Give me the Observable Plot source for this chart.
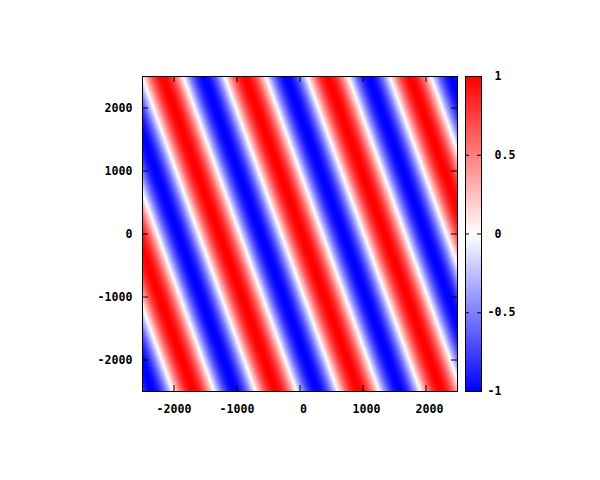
<!DOCTYPE html>
<html><head><meta charset="utf-8">
<script src="https://cdn.jsdelivr.net/npm/d3@7"></script>
<script src="https://cdn.jsdelivr.net/npm/@observablehq/plot@0.6"></script>
<style>
body{margin:0;background:#fff;}
#chart{position:relative;width:600px;height:480px;background:#fff;}
#chart svg{position:absolute;left:0;top:0;}
</style></head><body><div id="chart"></div>
<script>
// ---- data ----
const xDomain = [-2500, 2500];
const yDomain = [-2500, 2500];
const xTicks = [-2000, -1000, 0, 1000, 2000];
const yTicks = [-2000, -1000, 0, 1000, 2000];
const colorDomain = [-1, 0, 1];
const colorRange = ["#0000ff", "#ffffff", "#ff0000"];
const colorTicks = [-1, -0.5, 0, 0.5, 1];
// plane wave: crest spacing along x, stripe tilt (dx per dy), crest offset at y = 0
const waveLengthX = 1310;
const waveTilt = 0.36;
const waveOffset = 30;

// ---- layout ----
const W = 600, H = 480;
const mL = 142, mR = 143, mT = 76, mB = 89;
const innerW = W - mL - mR, innerH = H - mT - mB;
const cbL = 465, cbR = 119;
const cbW = W - cbL - cbR;
const tickLen = 6, cbTickLen = 4;
const fmt = d => (d < 0 ? "-" + Math.abs(d) : "\u00a0" + d);
const font = {fontFamily: "'DejaVu Sans Mono', monospace", fontWeight: "bold", fontSize: "11.6px", background: "transparent", color: "#000"};
const color = {type: "linear", domain: colorDomain, range: colorRange, interpolate: "rgb"};

const wave = (x, y) => Math.cos(2 * Math.PI * (x + waveTilt * y - waveOffset) / waveLengthX);

const main = Plot.plot({
  width: W, height: H, marginLeft: mL, marginRight: mR, marginTop: mT, marginBottom: mB,
  style: font,
  x: {domain: xDomain}, y: {domain: yDomain}, color,
  marks: [
    Plot.raster({fill: wave, x1: xDomain[0], x2: xDomain[1], y1: yDomain[0], y2: yDomain[1]}),
    Plot.frame({stroke: "#000"}),
    Plot.ruleX(xTicks, {x: d => d, insetTop: innerH - tickLen, stroke: "#000"}),
    Plot.ruleX(xTicks, {x: d => d, insetBottom: innerH - tickLen, stroke: "#000"}),
    Plot.ruleY(yTicks, {y: d => d, insetRight: innerW - tickLen, stroke: "#000"}),
    Plot.ruleY(yTicks, {y: d => d, insetLeft: innerW - tickLen, stroke: "#000"}),
    Plot.axisX(xTicks, {anchor: "bottom", tickSize: 0, tickPadding: 13, tickFormat: fmt, label: null}),
    Plot.axisY(yTicks, {anchor: "left", tickSize: 0, tickPadding: 10, tickFormat: fmt, label: null})
  ]
});

const cbar = Plot.plot({
  width: W, height: H, marginLeft: cbL, marginRight: cbR, marginTop: mT, marginBottom: mB,
  style: font,
  x: {domain: [0, 1], axis: null}, y: {domain: [colorDomain[0], colorDomain[2]]}, color,
  marks: [
    Plot.raster({fill: (x, y) => y, x1: 0, x2: 1, y1: colorDomain[0], y2: colorDomain[2]}),
    Plot.frame({stroke: "#000"}),
    Plot.ruleY(colorTicks, {y: d => d, insetRight: cbW - cbTickLen, stroke: "#000"}),
    Plot.ruleY(colorTicks, {y: d => d, insetLeft: cbW - cbTickLen, stroke: "#000"}),
    Plot.axisY(colorTicks, {anchor: "right", tickSize: 0, tickPadding: 6, tickFormat: fmt, label: null})
  ]
});

const root = document.getElementById("chart");
root.appendChild(main);
root.appendChild(cbar);
</script></body></html>
